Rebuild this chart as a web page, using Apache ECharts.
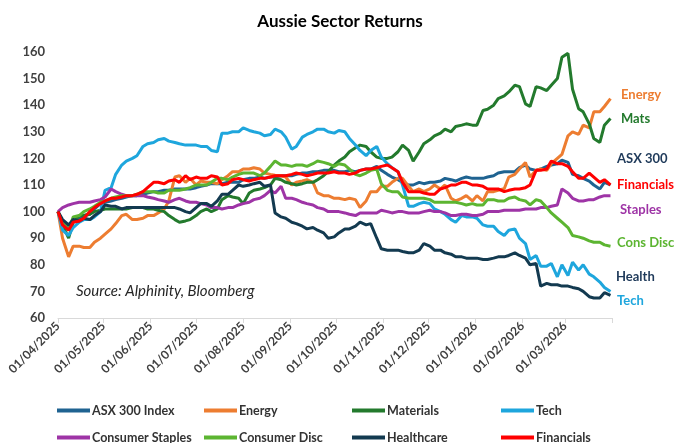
<!DOCTYPE html>
<html>
<head>
<meta charset="utf-8">
<script src="https://cdn.jsdelivr.net/npm/echarts@6/dist/echarts.min.js"></script>
<style>
html,body{margin:0;padding:0;background:#fff;}
#chart{width:680px;height:443px;}
</style>
</head>
<body>
<div id="chart"></div>
<script>
var dates = [
'2025-04-01','2025-04-04','2025-04-08','2025-04-11','2025-04-15','2025-04-18','2025-04-22','2025-04-25','2025-04-29','2025-05-02',
'2025-05-06','2025-05-09','2025-05-13','2025-05-16','2025-05-20','2025-05-23','2025-05-27','2025-05-30','2025-06-03','2025-06-06',
'2025-06-10','2025-06-13','2025-06-17','2025-06-20','2025-06-24','2025-06-27','2025-07-01','2025-07-04','2025-07-08','2025-07-11',
'2025-07-15','2025-07-18','2025-07-22','2025-07-25','2025-07-29','2025-08-01','2025-08-05','2025-08-08','2025-08-12','2025-08-15',
'2025-08-19','2025-08-22','2025-08-26','2025-08-29','2025-09-02','2025-09-05','2025-09-09','2025-09-12','2025-09-16','2025-09-19',
'2025-09-23','2025-09-26','2025-09-30','2025-10-03','2025-10-07','2025-10-10','2025-10-14','2025-10-17','2025-10-21','2025-10-24',
'2025-10-28','2025-10-31','2025-11-04','2025-11-07','2025-11-11','2025-11-14','2025-11-18','2025-11-21','2025-11-25','2025-11-28',
'2025-12-02','2025-12-05','2025-12-09','2025-12-12','2025-12-16','2025-12-19','2025-12-23','2025-12-26','2025-12-30','2026-01-02',
'2026-01-06','2026-01-09','2026-01-13','2026-01-16','2026-01-20','2026-01-23','2026-01-27','2026-01-30','2026-02-03','2026-02-06',
'2026-02-10','2026-02-13','2026-02-17','2026-02-20','2026-02-24','2026-02-27','2026-03-03','2026-03-06','2026-03-10','2026-03-13',
'2026-03-17','2026-03-20','2026-03-24','2026-03-27','2026-03-31'];

var seriesNames = ['ASX 300 Index','Energy','Materials','Tech','Consumer Staples','Consumer Disc','Healthcare','Financials'];

var asx300 = [
100,96,94,96.5,97.5,98.5,99,101,103,103.5,
104,104.5,105,105.5,106,106,106.5,107,107.5,107.5,
108,108,108.5,108.5,108.5,108.5,109,109.5,110,110.5,
110.5,110.5,111,111,111,112,112.5,112.5,113,112.5,
113,113,113.5,113.5,113.5,114,114.5,114.5,115,115,
115.5,115.5,115.5,115,115,115.5,115,115.5,116,116,
117,115.5,114,113,112,111,110,110,111,110.5,
111,111,111.5,112.5,112,111.5,112.5,113,112.5,112.5,
112.5,113,113.5,114.5,115,115,115,116.5,117.5,116,
115.5,116,117,117.5,118,119.3,118.5,114,113.5,112.5,
111.5,110,108.5,111,110];
var energy = [
100,90,83,87,87,86.5,86.5,88.5,90,91.5,
93.5,95.5,98.5,99,97,97,97.5,98.5,98.5,99.5,
101,104,113,113.5,111,112.5,110,111.5,111,111,
110.5,112,113.5,115,115,116,116,116.5,116,114.5,
114,113.7,113.5,113,110,111,111.5,112,111,107,
106,106,105,105,104.5,105,104.5,101.5,104,107.5,
107.5,109.5,109.5,111,112.5,112.5,109.5,107.5,108.5,107.5,
108.5,110,108.5,110,105,104,105,106,104,106,
104,107.5,107.5,108,108.6,113,114,116,118.5,113,
115.5,116,115.5,118,120,121.5,128.5,130,129,132.5,
131.5,137.5,137.5,139.5,142.5];
var materials = [
100,95,90,96,98.5,98.5,99,100,100.5,101,
101,101,101,101,101.5,101.5,101.5,101,101,100.5,
100,98.5,97,96,96.5,97,98.5,100,101,100,
101,104.5,106,105.5,105,103,107,108,108.5,109,
110,112.5,112,111,110.5,110,110.5,111,111,112,
113.5,115,117.5,119,120.5,122.5,124,125,124.5,122.5,
120.5,120,120,120.5,122.5,125,123,119,122.5,125.5,
127,128.5,129.5,131,130,132,132.5,133,132.5,132.5,
138,138.5,140,142.5,143.5,145,147.5,147,140.5,139.5,
147,146.5,145.5,147.5,150,158,159.5,146,138.7,137.5,
133,127.5,126,132.5,135];
var tech = [
100,93,91,94,96,97,97,98,100,108,
109,114,117.5,119,120,121,124.5,125.5,126,127,
127.5,126.5,126,125.5,125,125,125,124.5,124.5,123,
122.5,129.5,129.5,130,130,131.5,130.5,130,129.5,128.5,
129,131,130,128,123.5,124.5,128,129,130,131,
131,130,129.5,130.5,130,127.5,125,123,121,123,
124.5,120.5,118,116.5,115,110,102,102,103,103.5,
103,101,100,99,97,96,98.5,98,98,97.5,
95,94.5,94.5,92.5,91,93,93.5,90,88,82,
83.5,79.5,79.5,80.5,75.5,80,76,81,78,80,
76.5,75.5,73.5,71.5,70];
var staples = [
100,101.5,102.5,103,103.5,103.5,103.5,104,104.5,105.5,
108.5,107.5,106.5,106,106,106,106,105.5,105,104.5,
104,103.5,104.5,105,104,103.5,103.5,103,102.5,101.5,
101.5,101,101.5,101.5,102.5,103,103.5,104.5,105,106,
108,107,109.5,105,105,104.5,103.5,103,102.5,101.5,
101,100,100,100,99.5,99,98.5,99.5,99.5,99.5,
99.5,100.5,100,99.5,100,100,99.5,99.5,99.5,100,
100.5,100,100,99.5,98.5,98.5,99,99,98.5,98.5,
99,100,100,100,100.5,100.5,100.5,100.5,101,101,
101,101.5,101.5,102,102.5,108.5,107,105,104,104,
104.5,104.5,105.5,106,106];
var consDisc = [
100,96,93,98,98.5,100,101,102,103.5,104,
105,105.5,106,106,106,106.5,107.5,107.5,107.5,107,
107,108,108,108,108.5,109,110,110,110,111,
112.5,112.5,112,113,114,114.5,114.5,114.5,113.5,114.5,
117,119,117.5,117.5,117,117.5,117.5,117,118,119,
118.5,118,117,118,117.5,116,114,113.5,114.5,115.5,
116,110.5,108,107.5,107.5,105.5,105,105,105,105,
104.5,103.5,103.5,103.5,103.5,103.5,103,102.5,103,102.5,
102.5,104.5,104.5,104,104,105,105.5,104.5,104,102.5,
104.5,104,101.5,99.5,97.5,96,94,91,90.5,90,
89,88.5,88.5,87.5,87];
var healthcare = [
100,97,95,97,96.5,97.5,97,98.5,100,102.5,
102,102,101,101.5,101.5,101.5,101.5,101.5,101.5,101.5,
101.5,101.5,101.5,101,100,99.5,101.5,103,103,102,
104,106.5,106.5,108,110,109.5,110,110.5,111,109.5,
110,99.5,98,97.5,96,95.5,94.5,93.5,94,93,
92,90,90.5,92,93.5,93.5,94.5,96,95,95.5,
90,86,85.5,85.5,85.5,85,84.5,84.5,85.5,88,
87,85.5,85.5,84.5,84,83,83,82.5,82.5,82.5,
82,82,82.5,83,83,83.5,84.5,83.5,82.5,80,
80.5,72,73,72.5,72.5,72,72,71.5,71,70,
68,67.5,67.5,69.5,68.5];
var financials = [
100,95,93,96,96.5,97.5,100,101.5,103,104,
105,105,105.5,106,106,106.5,107.5,109,111,111,
110.5,111.5,112,111,113.5,112,113,112.5,112.5,113.5,
113,110,110.5,112,112.5,112,111.5,112,112.5,112.5,
113,113.5,113.5,113.5,114,114.5,114,113.5,114,114.5,
114.5,114.5,115,114.5,114.5,114,114.5,115.5,116,116,
116.5,117,117.5,116.5,115,111,107.5,107.5,107.5,107,
106.5,106.5,108.5,109,110,110,111,111,110,110,
109.5,108.5,108.5,108.5,107.5,108,108.5,108.5,109,110,
115.5,115.5,116,119,118,118,117,115,112.5,112.5,
114.5,113,111,112,110];

var yTicks = [60,70,80,90,100,110,120,130,140,150,160];

var endLabels = ['Energy','Mats','ASX 300','Financials','Staples','Cons Disc','Health','Tech'];

var colors = ['#1f6391','#ED7D31','#237a2d','#1ea6dd','#9e34a6','#5cb531','#133a50','#ff0000'];
var labelColors = ['#ED7D31','#237a2d','#1f3a5a','#ff0000','#9e34a6','#5cb531','#1f3a5a','#1ea6dd'];
var labelPos = [[621,96],[621,120],[617,160],[617,186],[620,211],[617,244],[616,278],[617,302]];

function toTime(s){var p=s.split('-');return new Date(+p[0],+p[1]-1,+p[2]).getTime();}
var allValues = [asx300,energy,materials,tech,staples,consDisc,healthcare,financials];
var FONT = 'Lato, "Open Sans", sans-serif';

var series = seriesNames.map(function(n,i){
  return {
    name:n, type:'line', showSymbol:false, symbol:'none',
    lineStyle:{width:3,color:colors[i]}, itemStyle:{color:colors[i]},
    data: dates.map(function(d,j){return [toTime(d), allValues[i][j]];}),
    z: 2+i
  };
});

var legendPos = [[57,404],[204,404],[352,404],[501,404],[57,431],[204,431],[352,431],[501,431]];
var legends = seriesNames.map(function(n,i){
  return {
    data:[n], left:legendPos[i][0], top:legendPos[i][1],
    icon:'rect', itemWidth:33, itemHeight:4, itemGap:0,
    padding:0,
    textStyle:{fontFamily:FONT,fontSize:12.5,fontWeight:'bold',color:'#333',padding:[0,0,0,-3]}
  };
});

var graphics = endLabels.map(function(t,i){
  return {type:'text', left:labelPos[i][0], top:labelPos[i][1]-8,
    style:{text:t, fill:labelColors[i], font:'bold 13px '+FONT}};
});
graphics.push({type:'text', left:76, top:284,
  style:{text:'Source: Alphinity, Bloomberg', fill:'#262626', font:'italic 15px '+FONT}});

var chart = echarts.init(document.getElementById('chart'), null, {renderer:'canvas'});
chart.setOption({
  animation:false,
  backgroundColor:'#fff',
  title:{text:'Aussie Sector Returns', left:'center', top:8,
    textStyle:{fontFamily:FONT,fontSize:17,fontWeight:'bold',color:'#000'}},
  grid:{left:58,right:68,top:52,bottom:125,containLabel:false,outerBoundsMode:'none'},
  legend:legends,
  xAxis:{
    type:'time',
    min:toTime('2025-04-01'), max:toTime('2026-04-01'),
    minInterval:28*86400000, maxInterval:31*86400000, splitNumber:12,
    axisLine:{lineStyle:{color:'#d9d9d9',width:1}},
    axisTick:{show:true,length:5,lineStyle:{color:'#d9d9d9'}},
    splitLine:{show:false},
    axisLabel:{rotate:45, fontFamily:FONT, fontSize:12, fontWeight:'bold', color:'#404040', margin:6,
      showMaxLabel:false, hideOverlap:false,
      formatter:function(v){var d=new Date(v); if(d.getDate()!==1) return '';
        if(d.getFullYear()===2026 && d.getMonth()===3) return '';
        var dd=('0'+d.getDate()).slice(-2), mm=('0'+(d.getMonth()+1)).slice(-2);
        return dd+'/'+mm+'/'+d.getFullYear();}}
  },
  yAxis:{
    type:'value', min:yTicks[0], max:yTicks[yTicks.length-1], interval:10,
    axisLine:{show:false}, axisTick:{show:false}, splitLine:{show:false},
    axisLabel:{fontFamily:FONT,fontSize:13,fontWeight:'bold',color:'#404040',margin:13}
  },
  graphic:graphics,
  series:series
});
</script>
</body>
</html>
